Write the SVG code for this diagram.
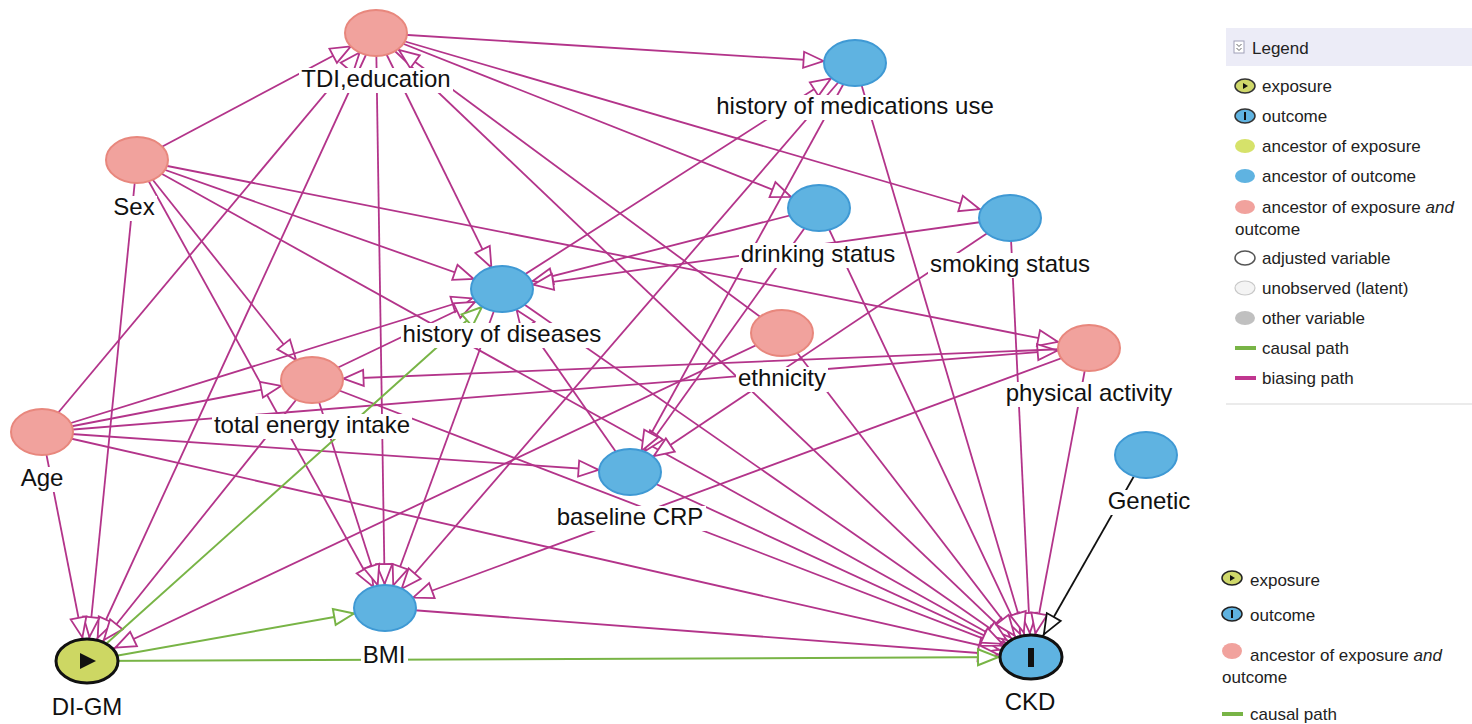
<svg xmlns="http://www.w3.org/2000/svg" width="1472" height="724" viewBox="0 0 1472 724">
<style>
.e{fill:none;stroke:#b3348a;stroke-width:1.8}
.g{fill:none;stroke:#78b446;stroke-width:2}
.k{fill:none;stroke:#111;stroke-width:1.8}
.ap{fill:#fff;stroke:#b3348a;stroke-width:1.8}
.ag{fill:#fff;stroke:#78b446;stroke-width:2}
.ak{fill:#fff;stroke:#111;stroke-width:1.8}
.pk{fill:#f1a29d;stroke:#e8877d;stroke-width:2}
.bl{fill:#5fb3e1;stroke:#3f99d4;stroke-width:2}
.lb{fill:#fff}
.t{font-family:"Liberation Sans",Arial,sans-serif;font-size:24px;fill:#111;text-anchor:middle}
.lg{font-family:"Liberation Sans",Arial,sans-serif;font-size:17px;fill:#222}
</style>
<defs>
<marker id="p24" markerUnits="userSpaceOnUse" markerWidth="80" markerHeight="20" refX="64" refY="10" orient="auto" overflow="visible"><path class="ap" d="M40,10 L20,2 L20,18 Z"/></marker>
<marker id="p25" markerUnits="userSpaceOnUse" markerWidth="80" markerHeight="20" refX="65.5" refY="10" orient="auto" overflow="visible"><path class="ap" d="M40,10 L20,2 L20,18 Z"/></marker>
<marker id="p27" markerUnits="userSpaceOnUse" markerWidth="80" markerHeight="20" refX="67" refY="10" orient="auto" overflow="visible"><path class="ap" d="M40,10 L20,2 L20,18 Z"/></marker>
<marker id="p28" markerUnits="userSpaceOnUse" markerWidth="80" markerHeight="20" refX="68.5" refY="10" orient="auto" overflow="visible"><path class="ap" d="M40,10 L20,2 L20,18 Z"/></marker>
<marker id="p30" markerUnits="userSpaceOnUse" markerWidth="80" markerHeight="20" refX="70" refY="10" orient="auto" overflow="visible"><path class="ap" d="M40,10 L20,2 L20,18 Z"/></marker>
<marker id="p31" markerUnits="userSpaceOnUse" markerWidth="80" markerHeight="20" refX="71.5" refY="10" orient="auto" overflow="visible"><path class="ap" d="M40,10 L20,2 L20,18 Z"/></marker>
<marker id="p33" markerUnits="userSpaceOnUse" markerWidth="80" markerHeight="20" refX="73" refY="10" orient="auto" overflow="visible"><path class="ap" d="M40,10 L20,2 L20,18 Z"/></marker>
<marker id="g27" markerUnits="userSpaceOnUse" markerWidth="80" markerHeight="20" refX="67" refY="10" orient="auto" overflow="visible"><path class="ag" d="M40,10 L20,2 L20,18 Z"/></marker>
<marker id="g31" markerUnits="userSpaceOnUse" markerWidth="80" markerHeight="20" refX="71.5" refY="10" orient="auto" overflow="visible"><path class="ag" d="M40,10 L20,2 L20,18 Z"/></marker>
<marker id="g33" markerUnits="userSpaceOnUse" markerWidth="80" markerHeight="20" refX="73" refY="10" orient="auto" overflow="visible"><path class="ag" d="M40,10 L20,2 L20,18 Z"/></marker>
<marker id="k26" markerUnits="userSpaceOnUse" markerWidth="80" markerHeight="20" refX="66" refY="10" orient="auto" overflow="visible"><path class="ak" d="M40,10 L20,2 L20,18 Z"/></marker>
</defs>
<rect x="0" y="0" width="1472" height="724" fill="#fff"/>
<g id="connectors">
<path class="e" marker-end="url(#p31)" d="M376,33 L855,63"/>
<path class="e" marker-end="url(#p31)" d="M376,33 L1010,218"/>
<path class="e" marker-end="url(#p30)" d="M376,33 L819,208"/>
<path class="e" marker-end="url(#p24)" d="M376,33 L502,289"/>
<path class="e" marker-end="url(#p24)" d="M376,33 L385,608"/>
<path class="e" marker-end="url(#p25)" d="M376,33 L87,661"/>
<path class="e" marker-end="url(#p28)" d="M376,33 L1031,657"/>
<path class="e" marker-end="url(#p28)" d="M137,160 L376,33"/>
<path class="e" marker-end="url(#p25)" d="M42,432 L376,33"/>
<path class="e" marker-end="url(#p28)" d="M782,333 L376,33"/>
<path class="e" marker-end="url(#p31)" d="M137,160 L1089,348"/>
<path class="e" marker-end="url(#p30)" d="M137,160 L502,289"/>
<path class="e" marker-end="url(#p30)" d="M137,160 L1031,657"/>
<path class="e" marker-end="url(#p25)" d="M137,160 L312,380"/>
<path class="e" marker-end="url(#p24)" d="M137,160 L385,608"/>
<path class="e" marker-end="url(#p24)" d="M137,160 L87,661"/>
<path class="e" marker-end="url(#p31)" d="M42,432 L502,289"/>
<path class="e" marker-end="url(#p31)" d="M42,432 L312,380"/>
<path class="e" marker-end="url(#p31)" d="M42,432 L1089,348"/>
<path class="e" marker-end="url(#p31)" d="M42,432 L630,472"/>
<path class="e" marker-end="url(#p33)" d="M42,432 L1031,657"/>
<path class="e" marker-end="url(#p24)" d="M42,432 L87,661"/>
<path class="e" marker-end="url(#p27)" d="M312,380 L87,661"/>
<path class="e" marker-end="url(#p24)" d="M312,380 L385,608"/>
<path class="e" marker-end="url(#p30)" d="M312,380 L502,289"/>
<path class="e" marker-end="url(#p31)" d="M312,380 L1031,657"/>
<path class="e" marker-end="url(#p24)" d="M502,289 L385,608"/>
<path class="e" marker-end="url(#p30)" d="M502,289 L1031,657"/>
<path class="e" marker-end="url(#p28)" d="M502,289 L855,63"/>
<path class="e" marker-end="url(#p25)" d="M630,472 L502,289"/>
<path class="e" marker-end="url(#p31)" d="M630,472 L1031,657"/>
<path class="e" marker-end="url(#p31)" d="M819,208 L502,289"/>
<path class="e" marker-end="url(#p25)" d="M819,208 L630,472"/>
<path class="e" marker-end="url(#p25)" d="M819,208 L1031,657"/>
<path class="e" marker-end="url(#p31)" d="M1010,218 L502,289"/>
<path class="e" marker-end="url(#p28)" d="M1010,218 L630,472"/>
<path class="e" marker-end="url(#p24)" d="M1010,218 L1031,657"/>
<path class="e" marker-end="url(#p24)" d="M855,63 L630,472"/>
<path class="e" marker-end="url(#p25)" d="M855,63 L385,608"/>
<path class="e" marker-end="url(#p25)" d="M855,63 L1031,657"/>
<path class="e" marker-end="url(#p31)" d="M1089,348 L312,380"/>
<path class="e" marker-end="url(#p30)" d="M1089,348 L385,608"/>
<path class="e" marker-end="url(#p24)" d="M1089,348 L1031,657"/>
<path class="e" marker-end="url(#p31)" d="M782,333 L87,661"/>
<path class="e" marker-end="url(#p27)" d="M782,333 L1031,657"/>
<path class="e" marker-end="url(#p33)" d="M385,608 L1031,657"/>
<path class="g" marker-end="url(#g27)" d="M87,661 L502,289"/>
<path class="g" marker-end="url(#g31)" d="M87,661 L385,608"/>
<path class="g" marker-end="url(#g33)" d="M87,661 L1031,657"/>
<path class="k" marker-end="url(#k26)" d="M1146,455 L1031,657"/>
</g>
<g id="node-tdi"><ellipse class="pk" cx="376" cy="33" rx="31" ry="23"/><rect class="lb" x="299" y="68" width="154" height="25"/><text class="t" x="376" y="87">TDI,education</text></g>
<g id="node-med"><ellipse class="bl" cx="855" cy="63" rx="31" ry="23"/><rect class="lb" x="714" y="95" width="282" height="25"/><text class="t" x="855" y="114">history of medications use</text></g>
<g id="node-sex"><ellipse class="pk" cx="137" cy="160" rx="31" ry="23"/><rect class="lb" x="111" y="196" width="46" height="25"/><text class="t" x="134" y="215">Sex</text></g>
<g id="node-drk"><ellipse class="bl" cx="819" cy="208" rx="31" ry="23"/><rect class="lb" x="739" y="243" width="159" height="25"/><text class="t" x="818" y="262">drinking status</text></g>
<g id="node-smk"><ellipse class="bl" cx="1010" cy="218" rx="31" ry="23"/><rect class="lb" x="928" y="253" width="164" height="25"/><text class="t" x="1010" y="272">smoking status</text></g>
<g id="node-hod"><ellipse class="bl" cx="502" cy="289" rx="31" ry="23"/><rect class="lb" x="401" y="323" width="203" height="25"/><text class="t" x="502" y="342">history of diseases</text></g>
<g id="node-eth"><ellipse class="pk" cx="782" cy="333" rx="31" ry="23"/><rect class="lb" x="736" y="367" width="92" height="25"/><text class="t" x="782" y="386">ethnicity</text></g>
<g id="node-pa"><ellipse class="pk" cx="1089" cy="348" rx="31" ry="23"/><rect class="lb" x="1004" y="382" width="171" height="25"/><text class="t" x="1089" y="401">physical activity</text></g>
<g id="node-tei"><ellipse class="pk" cx="312" cy="380" rx="31" ry="23"/><rect class="lb" x="212" y="414" width="200" height="25"/><text class="t" x="312" y="433">total energy intake</text></g>
<g id="node-age"><ellipse class="pk" cx="42" cy="432" rx="31" ry="23"/><rect class="lb" x="19" y="467" width="47" height="25"/><text class="t" x="42" y="486">Age</text></g>
<g id="node-crp"><ellipse class="bl" cx="630" cy="472" rx="31" ry="23"/><rect class="lb" x="555" y="506" width="151" height="25"/><text class="t" x="630" y="525">baseline CRP</text></g>
<g id="node-gen"><ellipse class="bl" cx="1146" cy="455" rx="31" ry="23"/><rect class="lb" x="1106" y="490" width="87" height="25"/><text class="t" x="1149" y="509">Genetic</text></g>
<g id="node-bmi"><ellipse class="bl" cx="385" cy="608" rx="31" ry="23"/><rect class="lb" x="361" y="644" width="47" height="25"/><text class="t" x="384" y="663">BMI</text></g>
<g id="node-digm"><ellipse cx="87" cy="661" rx="31" ry="22" fill="#cdd763" stroke="#111" stroke-width="3"/><path d="M80,653 L80,669 L96,661 Z" fill="#111"/><rect class="lb" x="50" y="696" width="75" height="25"/><text class="t" x="87" y="715">DI-GM</text></g>
<g id="node-ckd"><ellipse cx="1031" cy="657" rx="31" ry="22" fill="#5fb3e1" stroke="#111" stroke-width="3"/><rect x="1028" y="648" width="6" height="19" fill="#111"/><rect class="lb" x="1003" y="691" width="55" height="25"/><text class="t" x="1030" y="710">CKD</text></g>
<g id="legend-top">
<rect x="1226" y="28" width="246" height="38" fill="#ececf7"/>
<rect x="1234" y="41" width="10" height="12" fill="#fff" stroke="#a0a0b8" stroke-width="1"/>
<path d="M1236.5,44 l2.5,2.5 l2.5,-2.5 M1236.5,48 l2.5,2.5 l2.5,-2.5" fill="none" stroke="#666" stroke-width="1"/>
<text class="lg" x="1252" y="54">Legend</text>
<ellipse cx="1245" cy="86" rx="10" ry="7" fill="#cfd86a" stroke="#333" stroke-width="1.5"/><path d="M1243,83 L1243,89 L1248,86 Z" fill="#111"/>
<text class="lg" x="1262" y="92">exposure</text>
<ellipse cx="1245" cy="116" rx="10" ry="7" fill="#5fb3e1" stroke="#333" stroke-width="1.5"/><rect x="1244" y="112" width="2" height="8" fill="#111"/>
<text class="lg" x="1262" y="122">outcome</text>
<ellipse cx="1245" cy="146" rx="10" ry="7" fill="#d6e26a"/>
<text class="lg" x="1262" y="152">ancestor of exposure</text>
<ellipse cx="1245" cy="176" rx="10" ry="7" fill="#5fb3e1"/>
<text class="lg" x="1262" y="182">ancestor of outcome</text>
<ellipse cx="1245" cy="207" rx="10" ry="7" fill="#f1a29d"/>
<text class="lg" x="1262" y="213">ancestor of exposure <tspan font-style="italic">and</tspan></text>
<text class="lg" x="1235" y="235">outcome</text>
<ellipse cx="1245" cy="258" rx="10" ry="7" fill="#fff" stroke="#555" stroke-width="1.5"/>
<text class="lg" x="1262" y="264">adjusted variable</text>
<ellipse cx="1245" cy="288" rx="10" ry="7" fill="#f4f4f4" stroke="#c8c8c8" stroke-width="1.2"/>
<text class="lg" x="1262" y="294">unobserved (latent)</text>
<ellipse cx="1245" cy="318" rx="10" ry="7" fill="#c0c0c0"/>
<text class="lg" x="1262" y="324">other variable</text>
<rect x="1235" y="346" width="21" height="4" fill="#78b446"/>
<text class="lg" x="1262" y="354">causal path</text>
<rect x="1235" y="376" width="21" height="4" fill="#c0368f"/>
<text class="lg" x="1262" y="384">biasing path</text>
<line x1="1226" y1="404" x2="1472" y2="404" stroke="#e4e4e4" stroke-width="1.5"/>
</g>
<g id="legend-bottom">
<ellipse cx="1232" cy="578" rx="10" ry="7" fill="#cfd86a" stroke="#222" stroke-width="1.5"/><path d="M1230,575 L1230,581 L1235,578 Z" fill="#111"/>
<text class="lg" x="1250" y="586">exposure</text>
<ellipse cx="1232" cy="614" rx="10" ry="7" fill="#5fb3e1" stroke="#222" stroke-width="1.5"/><rect x="1231" y="610" width="2" height="8" fill="#111"/>
<text class="lg" x="1250" y="621">outcome</text>
<ellipse cx="1232" cy="651" rx="10" ry="8" fill="#f1a29d"/>
<text class="lg" x="1250" y="661">ancestor of exposure <tspan font-style="italic">and</tspan></text>
<text class="lg" x="1222" y="683">outcome</text>
<rect x="1222" y="712" width="21" height="4" fill="#78b446"/>
<text class="lg" x="1250" y="720">causal path</text>
</g>
</svg>
